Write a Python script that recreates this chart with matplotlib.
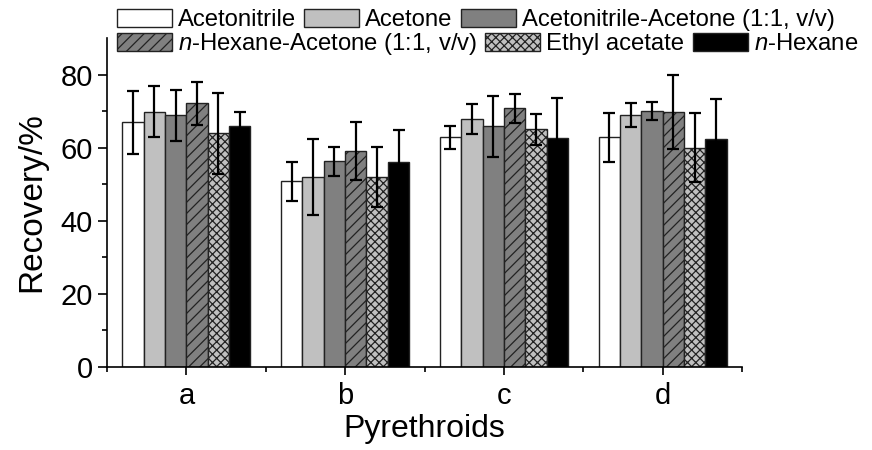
import matplotlib
matplotlib.use("Agg")
import matplotlib.pyplot as plt
import numpy as np
from matplotlib.patches import Patch

plt.rcParams['font.family'] = ['Liberation Sans', 'DejaVu Sans']
plt.rcParams['mathtext.fontset'] = 'custom'
plt.rcParams['mathtext.rm'] = 'Liberation Sans'
plt.rcParams['mathtext.it'] = 'Liberation Sans:italic'
plt.rcParams['hatch.linewidth'] = 0.9

categories = ['a', 'b', 'c', 'd']
series_names = ['Acetonitrile', 'Acetone', 'Acetonitrile-Acetone (1:1, v/v)',
                '$\\mathit{n}$-Hexane-Acetone (1:1, v/v)', 'Ethyl acetate', '$\\mathit{n}$-Hexane']

acetonitrile = [67.0, 50.8, 62.8, 62.9]
acetone = [69.8, 52.0, 67.8, 68.9]
acn_acetone = [68.9, 56.3, 65.8, 70.0]
hex_acetone = [72.1, 59.1, 70.8, 69.8]
ethyl_acetate = [63.9, 51.9, 65.0, 60.0]
hexane = [65.9, 56.0, 62.6, 62.3]

acetonitrile_err = [8.6, 5.3, 3.2, 6.7]
acetone_err = [7.0, 10.3, 4.1, 3.2]
acn_acetone_err = [7.0, 4.0, 8.3, 2.4]
hex_acetone_err = [5.8, 8.0, 4.0, 10.1]
ethyl_acetate_err = [11.0, 8.2, 4.2, 9.5]
hexane_err = [3.9, 8.7, 10.9, 11.1]

values = [acetonitrile, acetone, acn_acetone, hex_acetone, ethyl_acetate, hexane]
errors = [acetonitrile_err, acetone_err, acn_acetone_err, hex_acetone_err, ethyl_acetate_err, hexane_err]
colors = ['#ffffff', '#c0c0c0', '#808080', '#808080', '#c0c0c0', '#000000']
hatches = [None, None, None, '///', 'xxxx', None]

fig = plt.figure(figsize=(8.72, 4.5), dpi=100)
ax = fig.add_axes([107/872, 1 - 367/450, (742 - 107)/872, (367 - 38)/450])

x = np.arange(1, len(categories) + 1)
w = 0.1346
handles = []
for i, (vals, errs, c, h, name) in enumerate(zip(values, errors, colors, hatches, series_names)):
    pos = x + (i - 2.5) * w
    ax.bar(pos, vals, width=w, color=c, edgecolor='#222222', linewidth=1.0, hatch=h, zorder=2)
    ax.errorbar(pos, vals, yerr=errs, fmt='none', ecolor='black', elinewidth=1.6,
                capsize=4.5, capthick=1.6, zorder=3)
    handles.append(Patch(facecolor=c, edgecolor='#222222', linewidth=1.0, hatch=h, label=name))

ax.set_xlim(0.5, 4.5)
ax.set_ylim(0, 90)
ax.set_xticks(x)
ax.set_xticklabels(categories)
ax.set_xticks(np.arange(0.5, 4.6, 1.0), minor=True)
ax.set_yticks([0, 20, 40, 60, 80])
ax.set_yticks([10, 30, 50, 70], minor=True)
for s in ['top', 'right']:
    ax.spines[s].set_visible(False)
for s in ['left', 'bottom']:
    ax.spines[s].set_linewidth(1.2)
ax.tick_params(axis='y', which='major', direction='out', length=6.5, width=1.2, labelsize=21, pad=3.5)
ax.tick_params(axis='x', which='major', direction='out', length=6, width=1.2, labelsize=21, pad=5)
ax.tick_params(axis='both', which='minor', direction='out', length=3.5, width=1.2)
ax.set_xlabel('Pyrethroids', fontsize=23, labelpad=3)
ax.set_ylabel('Recovery/%', fontsize=24, labelpad=10)

leg_kw = dict(frameon=False, fontsize=17.2, handlelength=2.3, handleheight=0.8,
              handletextpad=0.25, columnspacing=0.35, borderpad=0, borderaxespad=0, ncol=3)
leg1 = fig.legend(handles=handles[:3], loc='upper left', bbox_to_anchor=(117/872, 1 - 9/450), **leg_kw)
leg2 = fig.legend(handles=handles[3:], loc='upper left', bbox_to_anchor=(117/872, 1 - 31/450), **leg_kw)

fig.savefig('out.png', dpi=100)
